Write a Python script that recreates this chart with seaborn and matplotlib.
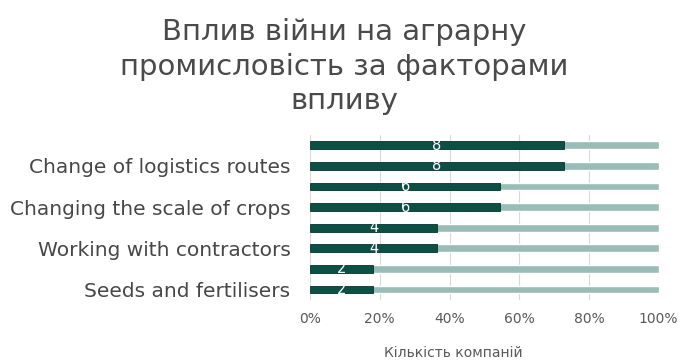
import numpy as np
import pandas as pd

import matplotlib
matplotlib.use('Agg')
import matplotlib.pyplot as plt
import seaborn as sns

# chart data
row_labels = ["", "Change of logistics routes", "", "Changing the scale of crops",
              "", "Working with contractors", "", "Seeds and fertilisers"]
counts = [8, 8, 6, 6, 4, 4, 2, 2]
total_companies = 11
title = "Вплив війни на аграрну\nпромисловість за факторами\nвпливу"
x_label = "Кількість компаній"

dark = "#0c4f45"
light = "#99bcb7"

df = pd.DataFrame({'row': ["r%d" % i for i in range(len(counts))],
                   'count': counts})
df['share'] = df['count'] / total_companies * 100
df['full'] = 100.0

sns.set_style("white")
plt.rcParams['font.family'] = ['DejaVu Sans']

fig = plt.figure(figsize=(6.89, 3.63), dpi=100)
ax = fig.add_axes([0.45, 0.174, 0.506, 0.454])

sns.barplot(data=df, y='row', x='full', color=light, width=0.38,
            saturation=1, ax=ax, orient='h', zorder=2)
sns.barplot(data=df, y='row', x='share', color=dark, width=0.38,
            saturation=1, ax=ax, orient='h', zorder=3,
            edgecolor="#06332c", linewidth=0.6)

for i, row in df.iterrows():
    ax.text(row['share'] / 2, i, str(row['count']), color='white',
            ha='center', va='center', fontsize=10.5, zorder=4)

ax.set_xlim(0, 100)
ax.set_ylim(len(counts) - 0.5, -0.5)
ax.set_xticks(np.arange(0, 101, 20))
ax.set_xticklabels(["%d%%" % v for v in range(0, 101, 20)], color="#595959", fontsize=10)
ax.set_yticks(range(len(counts)))
ax.set_yticklabels(row_labels, color="#474747", fontsize=14.5)
ax.tick_params(axis='y', length=0, pad=14)
ax.tick_params(axis='x', length=0, pad=9)
ax.grid(axis='x', color="#d9d9d9", linewidth=0.8, zorder=0)
ax.set_axisbelow(True)
for s in ax.spines.values():
    s.set_visible(False)

ax.set_ylabel("")
ax.set_xlabel(x_label, color="#595959", fontsize=10)
ax.xaxis.set_label_coords(0.41, -0.28)

fig.text(0.5, 0.95, title, ha='center', va='top', fontsize=21,
         color="#4a4a4a", linespacing=1.3)

fig.savefig("out.png", dpi=100)
